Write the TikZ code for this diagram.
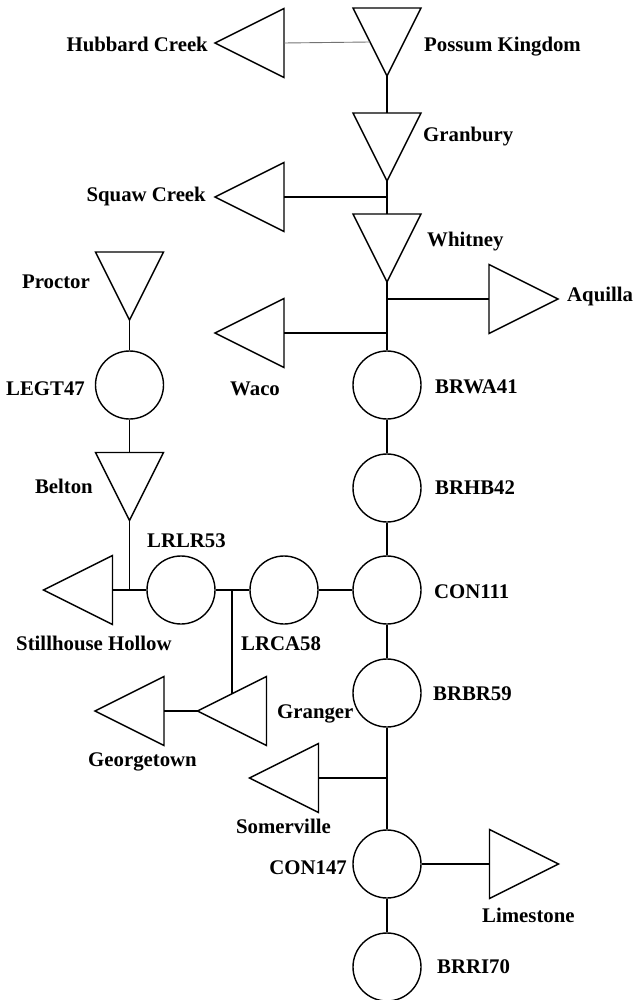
\documentclass[tikz,border=0pt]{standalone}
\usepackage{fontspec}
\setmainfont{Liberation Serif}
\tikzset{
  res/.style={circle, draw, line width=1.4pt, minimum size=68pt, inner sep=0pt},
  lbl/.style={font=\fontsize{20.8}{24}\selectfont\bfseries, inner sep=0pt},
  conn/.style={line width=1.4pt},
  thinconn/.style={line width=0.9pt, draw=black!55},
  pics/tridown/.style={code={
    \draw[line width=1.4pt, line join=miter] (-34,-34) -- (34,-34) -- (0,34) -- cycle;
    \coordinate (-top) at (0,-34);
    \coordinate (-apex) at (0,34);
    \coordinate (-west) at (-17,0);}},
  pics/trileft/.style={code={
    \draw[line width=1.4pt, line join=miter] (-34.5,0) -- (34.5,-34.5) -- (34.5,34.5) -- cycle;
    \coordinate (-apex) at (-34.5,0);
    \coordinate (-base) at (34.5,0);
    \coordinate (-ne) at (0,-17.25);}},
  pics/triright/.style={code={
    \draw[line width=1.4pt, line join=miter] (34.5,0) -- (-34.5,-34.5) -- (-34.5,34.5) -- cycle;
    \coordinate (-apex) at (34.5,0);
    \coordinate (-base) at (-34.5,0);}},
}
\begin{document}
\begin{tikzpicture}[x=1pt,y=-1pt]
\useasboundingbox (0,0) rectangle (634,1000);
% reservoirs (triangles)
\pic (pk) at (387,42) {tridown};
\pic (hc) at (249.5,43) {trileft};
\pic (gr) at (387,147) {tridown};
\pic (sc) at (249.5,197) {trileft};
\pic (wh) at (387,248) {tridown};
\pic (aq) at (523.5,299) {triright};
\pic (wa) at (249.5,333) {trileft};
\pic (sv) at (284,778) {trileft};
\pic (ls) at (524,864) {triright};
\pic (pr) at (129.5,286) {tridown};
\pic (be) at (129.5,486.5) {tridown};
\pic (sh) at (78,590) {trileft};
\pic (gn) at (232,711) {trileft};
\pic (gt) at (129.5,711) {trileft};
% control points (circles)
\node[res] (brwa) at (387,385) {};
\node[res] (brhb) at (387,488) {};
\node[res] (con111) at (387,590) {};
\node[res] (brbr) at (387,693) {};
\node[res] (con147) at (387,864) {};
\node[res] (brri) at (387,967) {};
\node[res] (legt) at (129.5,385) {};
\node[res] (lrlr) at (181,590) {};
\node[res] (lrca) at (284,590) {};
% junctions
\coordinate (j1) at (387,197);
\coordinate (j2) at (387,299);
\coordinate (j3) at (387,333);
\coordinate (j4) at (387,778);
\coordinate (j5) at (129.5,590);
\coordinate (j6) at (232,590);
% connectors
\draw[thinconn] (hc-base) -- (pk-west);
\draw[conn] (pk-apex) -- (gr-top);
\draw[conn] (gr-apex) -- (wh-top);
\draw[conn] (sc-base) -- (j1);
\draw[conn] (wh-apex) -- (brwa.north);
\draw[conn] (j2) -- (aq-base);
\draw[conn] (wa-base) -- (j3);
\draw[conn] (brwa) -- (brhb);
\draw[conn] (brhb) -- (con111);
\draw[conn] (con111) -- (brbr);
\draw[conn] (brbr) -- (con147);
\draw[conn] (con147) -- (brri);
\draw[conn] (sv-base) -- (j4);
\draw[conn] (con147.east) -- (ls-base);
\draw[conn] (pr-apex) -- (legt.north);
\draw[conn] (legt.south) -- (be-top);
\draw[conn] (be-apex) -- (j5);
\draw[conn] (sh-base) -- (lrlr.west);
\draw[conn] (lrlr) -- (lrca);
\draw[conn] (j6) -- (gn-ne);
\draw[conn] (gt-base) -- (gn-apex);
\draw[conn] (lrca) -- (con111);
% labels
\node[lbl, anchor=base east] (l-hc) at (208,52) {Hubbard Creek};
\node[lbl, anchor=base east] (l-sc) at (206,202) {Squaw Creek};
\node[lbl, anchor=base west] (l-pk) at (424,52) {Possum Kingdom};
\node[lbl, anchor=base west] (l-gr) at (423,142) {Granbury};
\node[lbl, anchor=base west] (l-wh) at (427,247) {Whitney};
\node[lbl, anchor=base west] (l-aq) at (567,301) {Aquilla};
\node[lbl, anchor=base east] (l-pr) at (90,288) {Proctor};
\node[lbl, anchor=base east] (l-legt) at (85,395) {LEGT47};
\node[lbl, anchor=base west] (l-wa) at (230,395) {Waco};
\node[lbl, anchor=base west] (l-brwa) at (435,393) {BRWA41};
\node[lbl, anchor=base west] (l-brhb) at (435,494) {BRHB42};
\node[lbl, anchor=base west] (l-con111) at (434,598) {CON111};
\node[lbl, anchor=base east] (l-be) at (93,493) {Belton};
\node[lbl, anchor=base west] (l-lrlr) at (147,547) {LRLR53};
\node[lbl, anchor=base west] (l-sh) at (16,650) {Stillhouse Hollow};
\node[lbl, anchor=base west] (l-lrca) at (241,650) {LRCA58};
\node[lbl, anchor=base west] (l-gt) at (88,766) {Georgetown};
\node[lbl, anchor=base west] (l-gn) at (277,718) {Granger};
\node[lbl, anchor=base west] (l-brbr) at (433,700) {BRBR59};
\node[lbl, anchor=base east] (l-sv) at (331,833) {Somerville};
\node[lbl, anchor=base east] (l-con147) at (347,874) {CON147};
\node[lbl, anchor=base west] (l-ls) at (482,922) {Limestone};
\node[lbl, anchor=base west] (l-brri) at (437,973) {BRRI70};
\end{tikzpicture}
\end{document}
